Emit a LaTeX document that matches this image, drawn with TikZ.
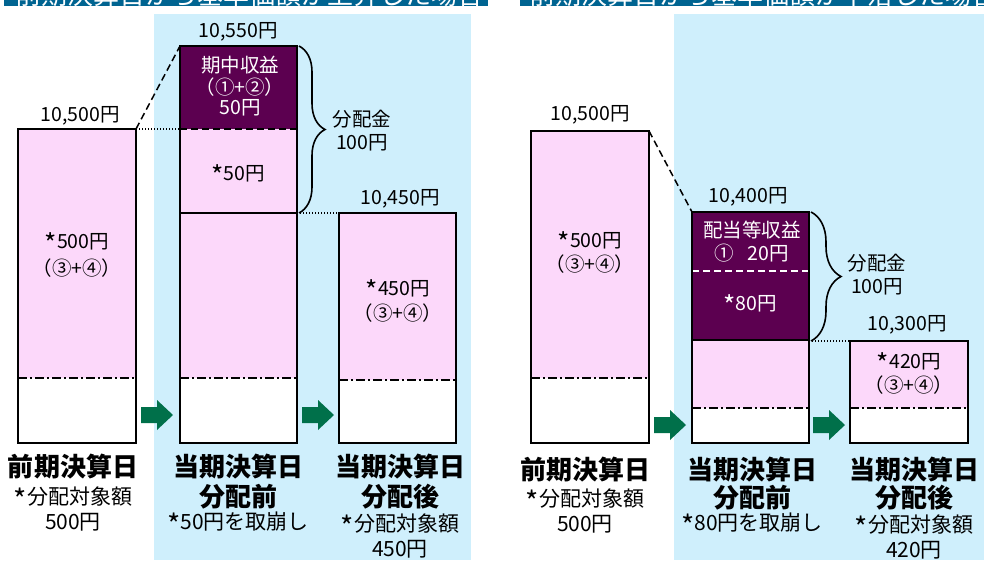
\documentclass[tikz,border=0pt]{standalone}
\usepackage{fontspec}
\setmainfont{Noto Sans CJK JP}
\usetikzlibrary{calc,decorations.pathreplacing}
\definecolor{bannerc}{HTML}{006491}
\definecolor{lblue}{HTML}{CFEFFC}
\definecolor{pinkc}{HTML}{FCD8FA}
\definecolor{purplec}{HTML}{5C0050}
\definecolor{greenc}{HTML}{00704A}
\newcommand\stx{\raisebox{-0.5ex}{\scalebox{1.35}{*}}}
\begin{document}
\begin{tikzpicture}[x=1pt,y=-1pt,
  box/.style={draw, line width=1.5pt, inner sep=0pt, outer sep=0pt, anchor=north west},
  txt/.style={font=\fontsize{19.5}{23}\selectfont, inner sep=0pt, align=center},
  wtxt/.style={txt, text=white},
  btxt/.style={font=\bfseries\fontsize{26}{28}\selectfont, inner sep=0pt},
  ltxt/.style={font=\fontsize{21}{25}\selectfont, inner sep=0pt, align=center},
  ddot/.style={line width=1.3pt, dash pattern=on 9pt off 3pt on 2pt off 3pt},
  conn/.style={line width=1.5pt, dash pattern=on 7pt off 4pt},
  wconn/.style={line width=1.5pt, white, dash pattern=on 7pt off 4pt},
  dotl/.style={line width=1.3pt, dash pattern=on 1.3pt off 1.7pt},
  brc/.style={decorate, decoration={brace, amplitude=#1}, line width=1.6pt},
  garr/.pic={\fill[greenc] (0,-8) -- (16,-8) -- (16,-15) -- (32,0) -- (16,15) -- (16,8) -- (0,8) -- cycle;}]
\useasboundingbox (0,0) rectangle (984,560);
\fill[white] (0,0) rectangle (984,560);
% panels
\fill[lblue] (154,14) rectangle (471,560);
\fill[lblue] (674,14) rectangle (984,560);
% banners
\fill[bannerc] (4,-20) rectangle (488,6);
\fill[bannerc] (520,-20) rectangle (995,6);
\node[anchor=base west, text=white, font=\fontsize{26}{28}\selectfont, inner sep=0pt] (ban1) at (15,4) {前期決算日から基準価額が上昇した場合};
\node[anchor=base west, text=white, font=\fontsize{26}{28}\selectfont, inner sep=0pt] (ban2) at (529,4) {前期決算日から基準価額が下落した場合};

% ---------- left panel fills
\fill[pinkc] (18,129) rectangle (136,378);
\fill[purplec] (180,46) rectangle (297,129);
\fill[pinkc] (180,129) rectangle (297,378);
\fill[white] (180,378) rectangle (297,443);
\fill[pinkc] (339,213) rectangle (456,380);
\fill[white] (339,380) rectangle (456,443);
% inner lines
\draw[ddot] (18,378) -- (136,378);
\draw[conn] (180,129) -- (298,129);
\draw[line width=1.5pt] (180,213) -- (297,213);
\draw[ddot] (180,378) -- (297,378);
\draw[ddot] (339,380) -- (456,380);
% boxes
\node[box, minimum width=118pt, minimum height=314pt] (A) at (18,129) {};
\node[box, minimum width=117pt, minimum height=397pt] (B) at (180,46) {};
\node[box, minimum width=117pt, minimum height=230pt] (C) at (339,213) {};
% connectors
\draw[conn] (A.north east) -- (B.north west);
\draw[dotl] (A.north east) -- (A.north east -| B.west);
\draw[dotl] (B.east |- C.north) -- (C.north west);
\draw[brc=26pt] ([xshift=2pt]B.north east) -- ([xshift=2pt]B.east |- C.north);
\pic at (141,415) {garr};
\pic at (302,415) {garr};
% texts
\node[txt] (a0) at (80,116) {10,500円};
\node[txt] (a1) at (77,243) {\stx{}500円};
\node[txt] (a2) at (77,268) {（③+④）};
\node[txt] (b0) at (238,32) {10,550円};
\node[wtxt] (b1) at (240,65) {期中収益};
\node[wtxt] (b2) at (240,87) {（①+②）};
\node[wtxt] (b3) at (240,108) {50円};
\node[txt] (b4) at (238,175) {\stx{}50円};
\node[txt] (d1) at (362,131) {分配金\\100円};
\node[txt] (c0) at (400,199) {10,450円};
\node[txt] (c1) at (398,290) {\stx{}450円};
\node[txt] (c2) at (398,313) {（③+④）};
\node[btxt] (la1) at (73,467) {前期決算日};
\node[ltxt] (la2) at (73,509) {\stx{}分配対象額\\500円};
\node[btxt] (lb1) at (238,467) {当期決算日};
\node[btxt] (lb2) at (238,497) {分配前};
\node[ltxt] (lb3) at (238,524) {\stx{}50円を取崩し};
\node[btxt] (lc1) at (400,467) {当期決算日};
\node[btxt] (lc2) at (400,497) {分配後};
\node[ltxt] (lc3) at (400,536) {\stx{}分配対象額\\450円};

% ---------- right panel fills
\fill[pinkc] (531,131) rectangle (649,378);
\fill[purplec] (692,212) rectangle (809,340);
\fill[pinkc] (692,340) rectangle (809,408);
\fill[white] (692,408) rectangle (809,443);
\fill[pinkc] (850,341) rectangle (968,408);
\fill[white] (850,408) rectangle (968,443);
\draw[ddot] (531,378) -- (649,378);
\draw[wconn] (692,271) -- (809,271);
\draw[line width=1.5pt] (692,340) -- (809,340);
\draw[ddot] (692,408) -- (809,408);
\draw[ddot] (850,408) -- (968,408);
\node[box, minimum width=118pt, minimum height=312pt] (D) at (531,131) {};
\node[box, minimum width=117pt, minimum height=231pt] (E) at (692,212) {};
\node[box, minimum width=118pt, minimum height=102pt] (F) at (850,341) {};
\draw[conn] (D.north east) -- (E.north west);
\draw[dotl] (E.east |- F.north) -- (F.north west);
\draw[brc=30pt] ([xshift=2pt]E.north east) -- ([xshift=2pt]E.east |- F.north);
\pic at (654,425) {garr};
\pic at (813,425) {garr};
\node[txt] (e0) at (590,115) {10,500円};
\node[txt] (e1) at (590,242) {\stx{}500円};
\node[txt] (e2) at (590,264) {（③+④）};
\node[txt] (f0) at (748,197) {10,400円};
\node[wtxt] (f1) at (752,230) {配当等収益};
\node[wtxt] (f2) at (752,253) {①\hspace{0.7em}20円};
\node[wtxt] (f3) at (750,305) {\stx{}80円};
\node[txt] (d2) at (877,275) {分配金\\100円};
\node[txt] (g0) at (907,325) {10,300円};
\node[txt] (g1) at (909,363) {\stx{}420円};
\node[txt] (g2) at (909,385) {（③+④）};
\node[btxt] (ra1) at (585,470) {前期決算日};
\node[ltxt] (ra2) at (585,511) {\stx{}分配対象額\\500円};
\node[btxt] (rb1) at (752,470) {当期決算日};
\node[btxt] (rb2) at (752,498) {分配前};
\node[ltxt] (rb3) at (752,525) {\stx{}80円を取崩し};
\node[btxt] (rc1) at (914,470) {当期決算日};
\node[btxt] (rc2) at (914,498) {分配後};
\node[ltxt] (rc3) at (914,537) {\stx{}分配対象額\\420円};
\end{tikzpicture}
\end{document}
